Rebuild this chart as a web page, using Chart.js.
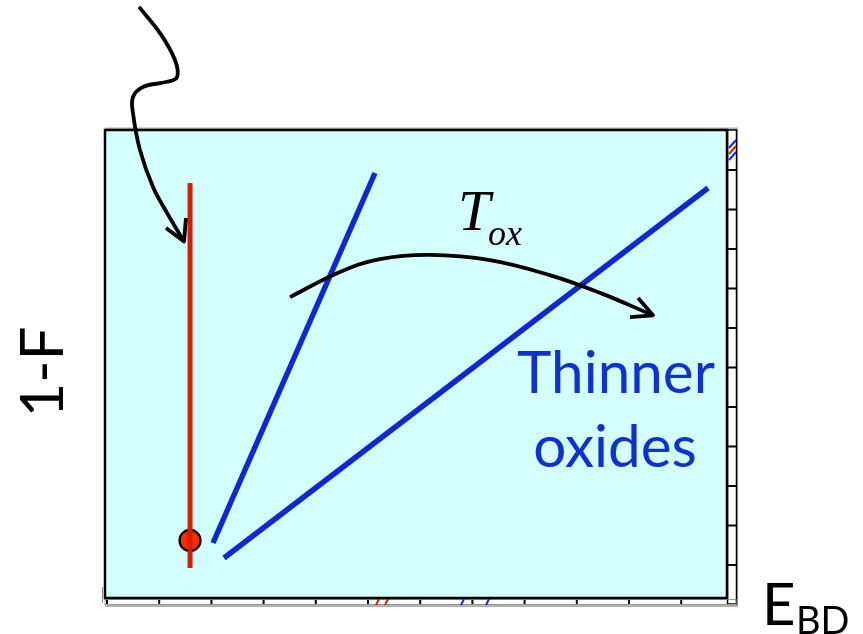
<!DOCTYPE html>
<html><head><meta charset="utf-8">
<script src="https://cdn.jsdelivr.net/npm/chart.js@4.4.0/dist/chart.umd.min.js"></script>
<style>html,body{margin:0;padding:0;background:#fff}#wrap{width:863px;height:634px;position:relative}</style>
</head><body><div id="wrap"><canvas id="c" width="863" height="634"></canvas></div>
<script>
// Data (axis units 0..100)
const redLineX = [13.67, 13.67];
const redLineY = [88.7, 6.4];
const redMarker = [{x: 13.67, y: 12.3}];
const blueThickX = [17.36, 43.41];
const blueThickY = [11.75, 90.81];
const blueThinX = [19.13, 96.95];
const blueThinY = [8.55, 87.61];
const arrow1 = [[5.47,126.3],[8.84,120.7],[11.25,114.96],[11.58,111.3],[9.97,110.3],[6.11,109.2],[4.5,107.05],[4.5,103.6],[5.63,95.7],[7.72,87.8],[9.97,82.3],[12.54,76.5]];
const arrow1Head = [[9.81,79.06],[12.7,76.2],[13.02,81.2]];
const arrow2 = [[29.74,64.3],[37.78,69.66],[44.2,72.4],[52.25,73.3],[61.9,72.2],[71.5,69.0],[79.6,65.2],[87.94,60.5]];
const arrow2Head = [[85.7,64.1],[88.1,60.4],[84.4,60.0]];
const labels = {y: '1-F', x: 'E', xSub: 'BD', tox: 'T', toxSub: 'ox', note1: 'Thinner', note2: 'oxides'};

const pts = (xs, ys) => xs.map((x, i) => ({x, y: ys[i]}));
const pp = a => a.map(p => ({x: p[0], y: p[1]}));

const frame = {
  id: 'frame',
  beforeDraw(chart) {
    const {ctx, chartArea: a} = chart;
    ctx.save();
    ctx.fillStyle = '#d4ffff';
    ctx.fillRect(a.left, a.top, a.right - a.left, a.bottom - a.top);
    ctx.fillStyle = '#ffffff';
    ctx.fillRect(a.right, a.top, 9, a.bottom - a.top + 8);
    ctx.fillRect(a.left, a.bottom, a.right - a.left + 9, 7);
    ctx.strokeStyle = '#b0b0b0'; ctx.lineWidth = 2;
    ctx.beginPath();
    ctx.moveTo(a.left, a.top - 1.5); ctx.lineTo(a.right + 10, a.top - 1.5); ctx.lineTo(a.right + 10, a.bottom + 8); ctx.lineTo(a.left, a.bottom + 8);
    ctx.stroke();
    ctx.strokeStyle = '#000'; ctx.lineWidth = 2;
    ctx.beginPath();
    for (let x = a.left + 2; x < a.right + 6; x += 52.2) { ctx.moveTo(x, a.bottom); ctx.lineTo(x, a.bottom + 6); }
    for (let y = a.top + 40; y < a.bottom; y += 39.5) { ctx.moveTo(a.right, y); ctx.lineTo(a.right + 9, y); }
    ctx.stroke();
    ctx.lineWidth = 1.5;
    ctx.strokeRect(a.right + 0.5, a.top, 9, a.bottom - a.top + 6);
    ctx.strokeStyle = '#999'; ctx.lineWidth = 1;
    ctx.strokeRect(a.left, a.bottom + 1.5, a.right - a.left + 9, 5);
    ctx.lineWidth = 2;
    ctx.strokeStyle = '#1030e0';
    ctx.beginPath(); ctx.moveTo(a.right + 2, a.top + 18); ctx.lineTo(a.right + 9, a.top + 10); ctx.stroke();
    ctx.beginPath(); ctx.moveTo(a.right + 2, a.top + 30); ctx.lineTo(a.right + 9, a.top + 22); ctx.stroke();
    ctx.strokeStyle = '#e02000';
    ctx.beginPath(); ctx.moveTo(a.right + 2, a.top + 24); ctx.lineTo(a.right + 9, a.top + 16); ctx.stroke();
    ctx.beginPath(); ctx.moveTo(376, a.bottom + 7); ctx.lineTo(379, a.bottom + 1); ctx.moveTo(385, a.bottom + 7); ctx.lineTo(388, a.bottom + 1); ctx.stroke();
    ctx.strokeStyle = '#1030e0';
    ctx.beginPath(); ctx.moveTo(461, a.bottom + 7); ctx.lineTo(464, a.bottom + 1); ctx.moveTo(486, a.bottom + 7); ctx.lineTo(489, a.bottom + 1); ctx.stroke();
    ctx.strokeStyle = '#888'; ctx.lineWidth = 1;
    ctx.beginPath(); ctx.moveTo(102.5, 587); ctx.lineTo(102.5, 603); ctx.stroke();
    ctx.restore();
  },
  afterDatasetsDraw(chart) {
    const {ctx, chartArea: a} = chart;
    ctx.save();
    ctx.strokeStyle = '#000'; ctx.lineWidth = 2.5;
    ctx.strokeRect(a.left, a.top, a.right - a.left, a.bottom - a.top);
    const fit = (txt, font, w) => { ctx.font = font; return w / ctx.measureText(txt).width; };
    const fam = 'Lato, "Open Sans", sans-serif';
    ctx.fillStyle = '#1030d0';
    ctx.textAlign = 'center'; ctx.textBaseline = 'alphabetic';
    let s = fit(labels.note1, '100px ' + fam, 198);
    ctx.font = (100 * s).toFixed(1) + 'px ' + fam;
    ctx.fillText(labels.note1, 616, 393);
    ctx.fillText(labels.note2, 615, 467);
    ctx.fillStyle = '#000';
    ctx.save();
    ctx.translate(63, 372); ctx.rotate(-Math.PI / 2);
    ctx.font = '60px ' + fam;
    ctx.textAlign = 'center';
    ctx.fillText(labels.y, 0, 0);
    ctx.restore();
    ctx.textAlign = 'left';
    ctx.font = '58px ' + fam;
    ctx.fillText(labels.x, 762, 625);
    ctx.font = '38px ' + fam;
    ctx.fillText(labels.xSub, 796, 634);
    ctx.font = 'italic 58px "Liberation Serif", "DejaVu Serif", serif';
    ctx.fillText(labels.tox, 458, 230);
    ctx.font = 'italic 36px "Liberation Serif", "DejaVu Serif", serif';
    ctx.fillText(labels.toxSub, 488, 245);
    ctx.restore();
  }
};

const common = {showLine: true, pointRadius: 0, fill: false, clip: false};
new Chart(document.getElementById('c'), {
  type: 'scatter',
  data: {datasets: [
    {...common, data: pp(arrow1), borderColor: '#000', borderWidth: 3.8, tension: 0.4},
    {...common, data: pp(arrow1Head), borderColor: '#000', borderWidth: 3.8, tension: 0, borderJoinStyle: 'round'},
    {...common, data: pp(arrow2), borderColor: '#000', borderWidth: 3.8, tension: 0.4},
    {...common, data: pp(arrow2Head), borderColor: '#000', borderWidth: 3.8, tension: 0, borderJoinStyle: 'round'},
    {...common, data: pts(redLineX, redLineY), borderColor: '#d42000', borderWidth: 5},
    {...common, data: pts(blueThickX, blueThickY), borderColor: '#1028d0', borderWidth: 5.5},
    {...common, data: pts(blueThinX, blueThinY), borderColor: '#1028d0', borderWidth: 5.5},
    {type: 'scatter', data: redMarker, pointRadius: 10.5, pointBackgroundColor: '#ff2a00', pointBorderColor: '#000', pointBorderWidth: 2.2, showLine: false}
  ]},
  options: {
    responsive: false, animation: false, devicePixelRatio: 1,
    layout: {padding: {left: 105, right: 136, top: 130, bottom: 36}},
    plugins: {legend: {display: false}, tooltip: {enabled: false}},
    scales: {
      x: {type: 'linear', min: 0, max: 100, display: false},
      y: {type: 'linear', min: 0, max: 100, display: false}
    }
  },
  plugins: [frame]
});
</script></body></html>
